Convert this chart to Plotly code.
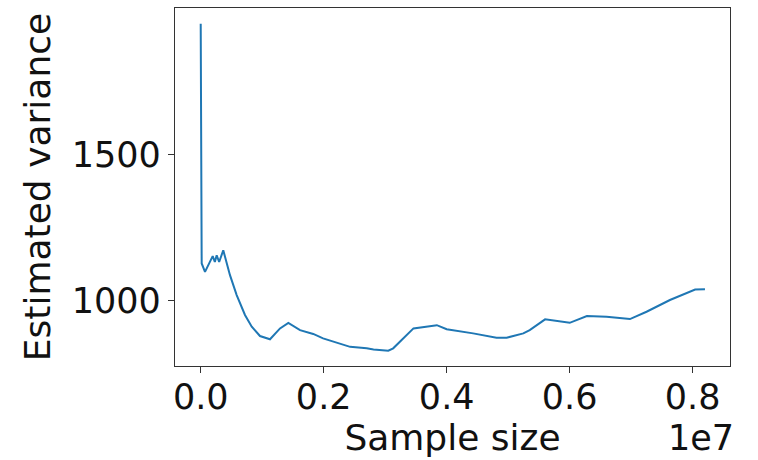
import plotly.graph_objects as go

sample_size = [0, 8000, 16000, 70000, 124000, 195000, 230000, 260000, 300000,
               367000, 476000, 585000, 720000, 830000, 964000, 1127000, 1290000,
               1425000, 1615000, 1830000, 1990000, 2270000, 2430000, 2700000,
               2810000, 3050000, 3130000, 3460000, 3840000, 4000000, 4430000,
               4810000, 4975000, 5246000, 5350000, 5600000, 6000000, 6280000,
               6600000, 6980000, 7250000, 7630000, 8040000, 8200000]
variance = [1946, 1300, 1127, 1098, 1121, 1152, 1132, 1155, 1132,
            1172, 1087, 1019, 951, 911, 879, 868, 905,
            924, 899, 886, 871, 854, 842, 837,
            833, 829, 837, 905, 916, 902, 888,
            873, 873, 888, 899, 936, 924, 947,
            945, 937, 962, 1002, 1038, 1039]

x_tickvals = [0, 2000000, 4000000, 6000000, 8000000]
x_ticktext = ["0.0", "0.2", "0.4", "0.6", "0.8"]
y_tickvals = [1000, 1500]
y_ticktext = ["1000", "1500"]

FONT = "DejaVu Sans"
AXC = "#333333"

fig = go.Figure()
fig.add_trace(go.Scatter(x=sample_size, y=variance, mode="lines",
                         line=dict(color="#1f77b4", width=2), showlegend=False))

axis_common = dict(showgrid=False, zeroline=False, showline=True, linecolor=AXC,
                   linewidth=1.3, mirror=True, ticks="outside", ticklen=6,
                   tickcolor=AXC, tickwidth=1.3,
                   tickfont=dict(family=FONT, size=35, color="#111111"))

fig.update_layout(
    width=758, height=460,
    margin=dict(l=175, r=28, t=8, b=94),
    paper_bgcolor="white", plot_bgcolor="white",
    xaxis=dict(range=[-418000, 8607000], tickvals=x_tickvals, ticktext=x_ticktext,
               ticklabelstandoff=-6,
               title=dict(text="Sample size", font=dict(family=FONT, size=36, color="#111111"),
                          standoff=0),
               **axis_common),
    yaxis=dict(range=[776.5, 2000], tickvals=y_tickvals, ticktext=y_ticktext,
               title=dict(text="Estimated variance", font=dict(family=FONT, size=36, color="#111111"),
                          standoff=10),
               **axis_common),
    annotations=[dict(text="1e7", xref="paper", yref="paper", x=1.0, y=-0.14,
                      xanchor="right", yanchor="top", showarrow=False,
                      xshift=6,
                      font=dict(family=FONT, size=35, color="#111111"))],
)

fig.write_html("out.html")
